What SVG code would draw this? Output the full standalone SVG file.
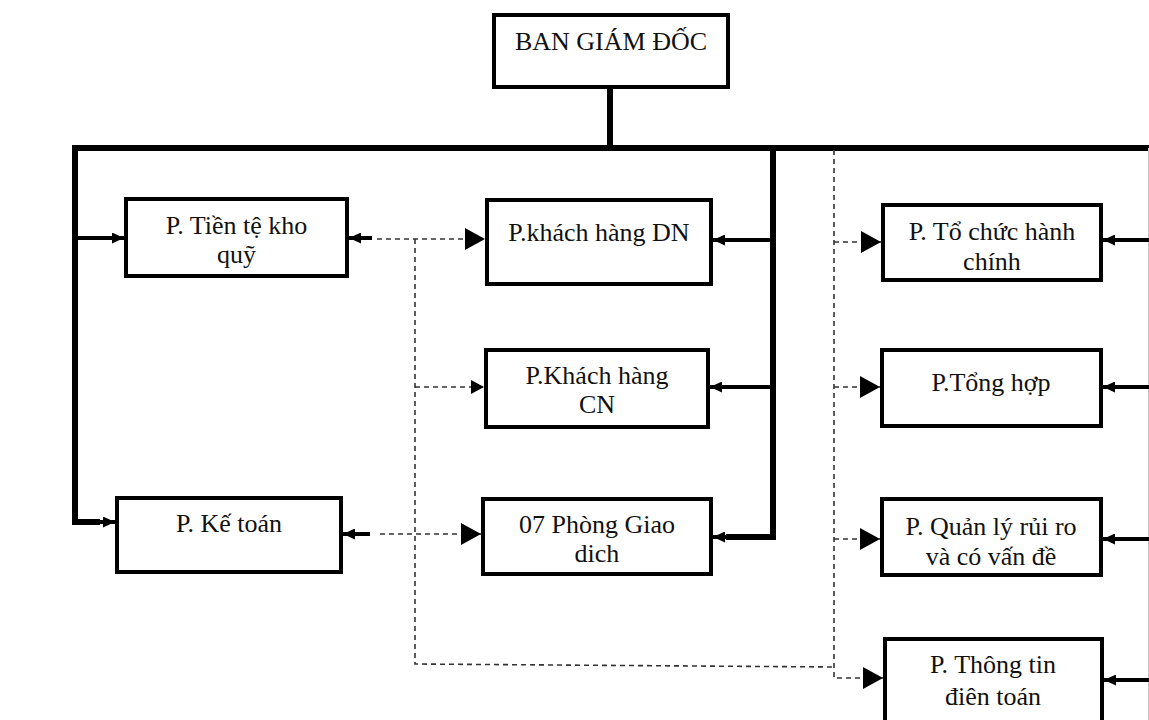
<svg xmlns="http://www.w3.org/2000/svg" width="1149" height="720" viewBox="0 0 1149 720">
<style>
.box{fill:#fff;stroke:#000;stroke-width:4}
.t{font-family:"Liberation Serif","Times New Roman",serif;font-size:26px;fill:#111;text-anchor:middle}
.bus{fill:none;stroke:#000;stroke-width:6;stroke-linejoin:miter}
.sol{fill:none;stroke:#000;stroke-width:4}
.dash{fill:none;stroke:#333;stroke-width:1.6;stroke-dasharray:5 4}
</style>
<defs>
<marker id="ah" markerUnits="userSpaceOnUse" markerWidth="12" markerHeight="11" refX="12" refY="5.5" orient="auto"><path d="M0,0 L12,5.5 L0,11 z" fill="#000"/></marker>
<marker id="big" markerUnits="userSpaceOnUse" markerWidth="20" markerHeight="22" refX="20" refY="11" orient="auto"><path d="M0,0 L20,11 L0,22 z" fill="#000"/></marker>
<marker id="sm" markerUnits="userSpaceOnUse" markerWidth="13" markerHeight="14" refX="13" refY="7" orient="auto"><path d="M0,0 L13,7 L0,14 z" fill="#000"/></marker>
</defs>
<rect width="1149" height="720" fill="#fff"/>
<g id="connectors">
<path class="bus" d="M610,89 V148"/>
<path class="bus" d="M72,148 H1149"/>
<path class="bus" d="M75,148 V522 H100"/>
<path class="bus" d="M773,148 V537 H726"/>
<line x1="1148.5" y1="148" x2="1148.5" y2="720" stroke="#c8c8c8" stroke-width="1"/>
<line class="sol" x1="76" y1="238" x2="124" y2="238" marker-end="url(#ah)"/>
<line class="sol" x1="98" y1="522" x2="115" y2="522" marker-end="url(#ah)"/>
<line class="sol" x1="773" y1="240" x2="713" y2="240" marker-end="url(#ah)"/>
<line class="sol" x1="773" y1="387" x2="710" y2="387" marker-end="url(#ah)"/>
<line class="sol" x1="740" y1="537" x2="713" y2="537" marker-end="url(#ah)"/>
<line class="sol" x1="1149" y1="240" x2="1103" y2="240" marker-end="url(#ah)"/>
<line class="sol" x1="1149" y1="387" x2="1103" y2="387" marker-end="url(#ah)"/>
<line class="sol" x1="1149" y1="539" x2="1103" y2="539" marker-end="url(#ah)"/>
<line class="sol" x1="1149" y1="680" x2="1104" y2="680" marker-end="url(#ah)"/>
<line class="sol" x1="372" y1="238" x2="349" y2="238" marker-end="url(#ah)"/>
<line class="sol" x1="370" y1="534" x2="343" y2="534" marker-end="url(#ah)"/>
<line class="dash" x1="377" y1="239" x2="485" y2="239" marker-end="url(#big)"/>
<line class="dash" x1="380" y1="534" x2="481" y2="534" marker-end="url(#big)"/>
<path class="dash" d="M415,239 V664 L834,667"/>
<line class="dash" x1="415" y1="387" x2="484" y2="387" marker-end="url(#sm)"/>
<path class="dash" d="M834,150 V678 H883" marker-end="url(#big)"/>
<line class="dash" x1="834" y1="242" x2="881" y2="242" marker-end="url(#big)"/>
<line class="dash" x1="834" y1="387" x2="880" y2="387" marker-end="url(#big)"/>
<line class="dash" x1="834" y1="539" x2="880" y2="539" marker-end="url(#big)"/>
</g>
<g id="ban-giam-doc">
<rect class="box" x="494" y="15" width="234" height="72"/>
<text class="t" x="611" y="50">BAN GIÁM ĐỐC</text>
</g>
<g id="p-tien-te">
<rect class="box" x="126" y="199" width="221" height="77"/>
<text class="t" x="236.5" y="234">P. Tiền tệ kho</text>
<text class="t" x="236.5" y="263">quỹ</text>
</g>
<g id="p-khach-hang-dn">
<rect class="box" x="487" y="200" width="224" height="84"/>
<text class="t" x="599" y="241">P.khách hàng DN</text>
</g>
<g id="p-khach-hang-cn">
<rect class="box" x="486" y="350" width="222" height="77"/>
<text class="t" x="597" y="384">P.Khách hàng</text>
<text class="t" x="597" y="413">CN</text>
</g>
<g id="phong-giao-dich">
<rect class="box" x="483" y="499" width="228" height="75"/>
<text class="t" x="597" y="533">07 Phòng Giao</text>
<text class="t" x="597" y="562">dich</text>
</g>
<g id="p-ke-toan">
<rect class="box" x="117" y="498" width="224" height="74"/>
<text class="t" x="229" y="532">P. Kế toán</text>
</g>
<g id="p-to-chuc">
<rect class="box" x="883" y="205" width="218" height="75"/>
<text class="t" x="992" y="240">P. Tổ chức hành</text>
<text class="t" x="992" y="270">chính</text>
</g>
<g id="p-tong-hop">
<rect class="box" x="882" y="350" width="219" height="76"/>
<text class="t" x="991" y="391">P.Tổng hợp</text>
</g>
<g id="p-quan-ly">
<rect class="box" x="882" y="499" width="219" height="76"/>
<text class="t" x="991" y="535">P. Quản lý rủi ro</text>
<text class="t" x="991" y="565">và có vấn đề</text>
</g>
<g id="p-thong-tin">
<rect class="box" x="885" y="639" width="217" height="90"/>
<text class="t" x="993" y="673">P. Thông tin</text>
<text class="t" x="993" y="705">điên toán</text>
</g>
</svg>
